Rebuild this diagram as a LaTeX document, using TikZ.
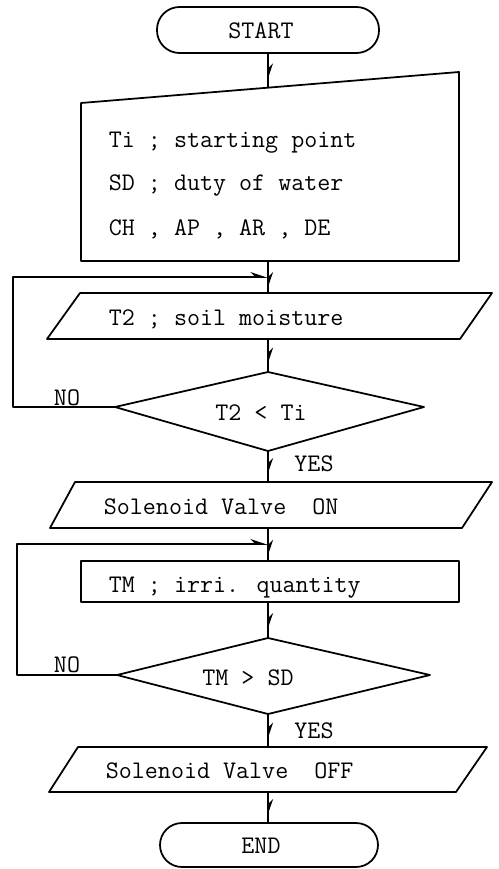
\documentclass[tikz,border=0pt]{standalone}
\usetikzlibrary{arrows.meta,decorations.markings}

\begin{document}
\begin{tikzpicture}[x=0.02cm, y=-0.02cm, line width=1pt, line join=round,
    txt/.style={font=\fontsize{14.4}{17}\selectfont\ttfamily, inner sep=0pt},
    harp/.tip={Stealth[harpoon, length=3mm, width=2mm]},
    flow/.style={postaction={decorate}, decoration={markings,
        mark=at position 0.8 with {\arrow{harp}}}}]
    \useasboundingbox (0,0) rectangle (499,869);

    % terminals
    \draw[rounded corners=0.45cm] (157,7) rectangle (379,53);
    \node[txt] (start) at (261,31) {START};
    \draw[rounded corners=0.44cm] (160,823) rectangle (378,867);
    \node[txt] (finish) at (261,846) {END};

    % manual input of the set values
    \draw (81,103) -- (459,72) -- (459,261) -- (81,261) -- cycle;
    \node[txt, anchor=base west] (ti) at (108,147) {Ti ; starting point};
    \node[txt, anchor=base west] (sd) at (108,190) {SD ; duty of water};
    \node[txt, anchor=base west] (ch) at (108,235) {CH , AP , AR , DE};

    % reading the soil moisture
    \draw (80,293) -- (492,293) -- (460,339) -- (47,339) -- cycle;
    \node[txt, anchor=base west] (moist) at (108,325) {T2 ; soil moisture};

    % first test
    \draw (268,372) -- (424,407) -- (268,451) -- (115,407) -- cycle;
    \node[txt] (cmpa) at (261,413) {T2 < Ti};
    \node[txt] (noa) at (67,398) {NO};
    \node[txt] (yesa) at (314,464) {YES};

    \draw (75,482) -- (492,482) -- (462,528) -- (50,528) -- cycle;
    \node[txt, anchor=base west] (valveon) at (103,514) {Solenoid Valve\ \ ON};

    % irrigation quantity
    \draw (81,561) rectangle (459,602);
    \node[txt, anchor=base west] (quant) at (108,592) {TM ; irri. quantity};

    % second test
    \draw (268,638) -- (430,675) -- (268,714) -- (117,675) -- cycle;
    \node[txt] (cmpb) at (248,678) {TM > SD};
    \node[txt] (nob) at (67,665) {NO};
    \node[txt] (yesb) at (314,731) {YES};

    \draw (78,747) -- (487,747) -- (456,792) -- (49,792) -- cycle;
    \node[txt, anchor=base west] (valveoff) at (105,778) {Solenoid Valve\ \ OFF};

    % connection points
    \coordinate (start-s) at (268,53);
    \coordinate (input-n) at (268,88);
    \coordinate (input-s) at (268,261);
    \coordinate (joina) at (268,277);
    \coordinate (moist-n) at (268,293);
    \coordinate (moist-s) at (268,339);
    \coordinate (cmpa-n) at (268,372);
    \coordinate (cmpa-w) at (115,407);
    \coordinate (cmpa-s) at (268,451);
    \coordinate (on-n) at (268,482);
    \coordinate (on-s) at (268,528);
    \coordinate (joinb) at (268,544);
    \coordinate (quant-n) at (268,561);
    \coordinate (quant-s) at (268,602);
    \coordinate (cmpb-n) at (268,638);
    \coordinate (cmpb-w) at (117,675);
    \coordinate (cmpb-s) at (268,714);
    \coordinate (off-n) at (268,747);
    \coordinate (off-s) at (268,792);
    \coordinate (finish-n) at (268,823);

    % flow lines
    \draw[flow] (start-s) -- (input-n);
    \draw (input-s) -- (joina);
    \draw[flow] (joina) -- (moist-n);
    \draw[flow] (moist-s) -- (cmpa-n);
    \draw[flow] (cmpa-s) -- (on-n);
    \draw (on-s) -- (joinb);
    \draw[flow] (joinb) -- (quant-n);
    \draw[flow] (quant-s) -- (cmpb-n);
    \draw[flow] (cmpb-s) -- (off-n);
    \draw[flow] (off-s) -- (finish-n);

    % loops back
    \draw[-harp] (cmpa-w) -| (13,277) -- (joina);
    \draw[-harp] (cmpb-w) -| (17,544) -- (joinb);
\end{tikzpicture}
\end{document}
